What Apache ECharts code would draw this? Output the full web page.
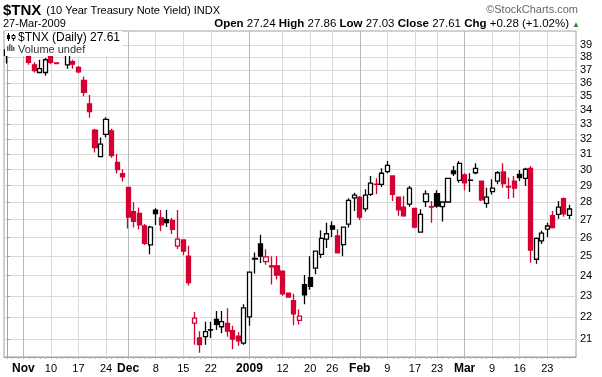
<!DOCTYPE html>
<html>
<head>
<meta charset="utf-8">
<script src="https://cdn.jsdelivr.net/npm/echarts@6/dist/echarts.min.js"></script>
<style>
html, body { margin: 0; padding: 0; background: #fff; }
#tnxChart { width: 602px; height: 377px; }
</style>
</head>
<body>
<div id="tnxChart"></div>
<script>
// trading days shown on the chart
var dates = [
  '2008-10-29', '2008-10-30', '2008-10-31',
  '2008-11-03', '2008-11-04', '2008-11-05', '2008-11-06', '2008-11-07', '2008-11-10', '2008-11-11', '2008-11-12', '2008-11-13', '2008-11-14',
  '2008-11-17', '2008-11-18', '2008-11-19', '2008-11-20', '2008-11-21', '2008-11-24', '2008-11-25', '2008-11-26', '2008-11-28',
  '2008-12-01', '2008-12-02', '2008-12-03', '2008-12-04', '2008-12-05', '2008-12-08', '2008-12-09', '2008-12-10', '2008-12-11', '2008-12-12',
  '2008-12-15', '2008-12-16', '2008-12-17', '2008-12-18', '2008-12-19', '2008-12-22', '2008-12-23', '2008-12-24', '2008-12-26',
  '2008-12-29', '2008-12-30', '2008-12-31',
  '2009-01-02', '2009-01-05', '2009-01-06', '2009-01-07', '2009-01-08', '2009-01-09', '2009-01-12', '2009-01-13', '2009-01-14', '2009-01-15', '2009-01-16',
  '2009-01-20', '2009-01-21', '2009-01-22', '2009-01-23', '2009-01-26', '2009-01-27', '2009-01-28', '2009-01-29', '2009-01-30',
  '2009-02-02', '2009-02-03', '2009-02-04', '2009-02-05', '2009-02-06', '2009-02-09', '2009-02-10', '2009-02-11', '2009-02-12', '2009-02-13',
  '2009-02-17', '2009-02-18', '2009-02-19', '2009-02-20', '2009-02-23', '2009-02-24', '2009-02-25', '2009-02-26', '2009-02-27',
  '2009-03-02', '2009-03-03', '2009-03-04', '2009-03-05', '2009-03-06', '2009-03-09', '2009-03-10', '2009-03-11', '2009-03-12', '2009-03-13',
  '2009-03-16', '2009-03-17', '2009-03-18', '2009-03-19', '2009-03-20', '2009-03-23', '2009-03-24', '2009-03-25', '2009-03-26', '2009-03-27'
];

// OHLC (null = no candle drawn)
var opens = [38.15, 38.6, 39.5, 39.4, 39.0, 37.4, 36.8, 36.8, 38.3, 37.55,
  null, 37.4, 37.65, 37.2, 36.2, 34.45, 32.6, 30.83, 32.3, 32.55,
  30.45, 29.75, 28.9, 27.45, 27.35, 26.65, 25.6, 27.55, 27.1, 27.0,
  26.95, 25.54, 25.87, 25.0, 21.71, 21.05, 21.11, 21.4, 21.89, 21.55,
  21.7, 21.37, 21.13, 20.82, 22.0, 24.85, 25.65, 24.72, 24.5, 24.5,
  24.23, 23.13, 22.77, 21.84, 23.54, 23.9, 24.38, 25.1, 25.91, 26.64,
  26.09, 25.62, 26.74, 28.27, 28.3, 27.62, 28.47, 29.1, 29.08, 29.87,
  29.6, 28.31, 27.72, 27.89, 27.64, 26.3, 28.04, 27.75, 28.52, 27.75,
  28.02, 29.91, 29.32, 29.66, 29.32, 29.8, 29.28, 27.94, 28.64, 29.28,
  29.85, 28.95, 29.28, 29.7, 29.45, 30.08, 24.84, 25.82, 26.46, 27.22,
  27.3, 28.22, 27.24];
var highs = [39.2, 39.7, 39.9, 39.6, 39.2, 37.6, 37.8, 37.95, 38.4, 37.58,
  null, 38.4, 37.8, 37.3, 36.5, 35.1, 32.7, 32.1, 33.5, 32.7,
  31.0, 30.0, 28.9, 28.0, 27.7, 26.75, 26.65, 27.65, 27.55, 27.55,
  27.1, 27.55, 25.9, 25.55, 22.23, 21.35, 21.78, 21.78, 22.27, 22.27,
  22.4, 21.6, 21.3, 22.6, 24.2, 25.2, 26.15, 25.37, 25.0, 25.0,
  24.25, 23.15, 23.1, 22.35, 24.03, 25.0, 25.3, 26.4, 26.82, 26.9,
  26.46, 26.6, 28.24, 28.57, 28.37, 28.78, 29.6, 29.45, 30.08, 30.55,
  29.6, 28.31, 28.37, 28.98, 27.65, 27.6, 28.72, 28.08, 28.72, 28.05,
  29.45, 30.23, 30.55, 29.77, 29.77, 30.4, 29.3, 28.88, 29.4, 29.91,
  30.4, 29.5, 29.6, 29.98, 30.12, 30.23, 26.0, 26.37, 26.82, 27.5,
  28.08, 28.28, 27.86];
var lows = [37.5, 38.5, 38.9, 38.8, 37.4, 36.8, 36.75, 36.55, 37.45, 37.48,
  null, 37.1, 37.1, 36.75, 35.0, 33.45, 31.1, 30.8, 32.1, 30.75,
  29.75, 29.25, 26.5, 26.55, 26.45, 25.6, 25.1, 26.7, 26.35, 26.58,
  26.2, 25.38, 25.05, 23.5, 20.75, 20.4, 20.75, 21.05, 21.4, 21.26,
  21.1, 20.55, 20.7, 20.75, 21.6, 24.1, 24.65, 24.55, 23.55, 23.8,
  23.0, 22.9, 21.62, 21.65, 22.6, 23.3, 24.07, 24.9, 25.43, 26.03,
  25.15, 25.0, 26.56, 27.5, 26.98, 27.45, 28.37, 28.5, 28.92, 29.77,
  28.08, 27.22, 27.16, 27.74, 26.52, 26.27, 27.72, 26.82, 27.68, 26.9,
  27.98, 29.6, 29.18, 28.72, 28.62, 29.7, 28.08, 27.68, 28.47, 29.08,
  28.88, 28.2, 28.27, 29.28, 28.98, 24.66, 24.61, 25.65, 26.03, 26.5,
  27.05, 27.16, 27.03];
var closes = [38.6, 39.5, 39.4, 39.1, 37.6, 36.95, 37.1, 37.8, 37.6, 37.5,
  null, 38.2, 37.45, 36.85, 35.3, 33.9, 31.42, 31.65, 33.35, 30.9,
  30.0, 29.55, 27.15, 26.9, 26.7, 25.68, 26.58, 27.35, 26.7, 26.83,
  26.45, 25.91, 25.27, 23.65, 21.94, 20.75, 21.33, 21.42, 21.66, 21.78,
  21.35, 21.0, 20.92, 22.42, 24.18, 24.88, 25.0, 24.96, 24.45, 24.03,
  23.1, 22.94, 22.14, 22.04, 23.04, 23.46, 25.27, 25.96, 26.21, 26.46,
  25.18, 26.58, 28.12, 28.43, 27.15, 28.43, 29.15, 29.08, 29.77, 30.27,
  28.47, 27.56, 27.22, 28.85, 26.58, 27.3, 28.5, 27.72, 27.78, 28.02,
  29.45, 29.74, 30.4, 29.18, 29.34, 30.08, 28.15, 28.31, 28.85, 29.8,
  29.12, 28.92, 28.85, 29.49, 30.02, 25.32, 25.96, 26.24, 26.64, 26.55,
  27.72, 27.33, 27.61];

// x axis labels
var tickDates = ['2008-11-03', '2008-11-10', '2008-11-17', '2008-11-24', '2008-12-01', '2008-12-08', '2008-12-15', '2008-12-22',
  '2009-01-02', '2009-01-12', '2009-01-20', '2009-01-26', '2009-02-02', '2009-02-09', '2009-02-17', '2009-02-23',
  '2009-03-02', '2009-03-09', '2009-03-16', '2009-03-23'];
var tickLabels = ['Nov', '10', '17', '24', 'Dec', '8', '15', '22', '2009', '12', '20', '26', 'Feb', '9', '17', '23', 'Mar', '9', '16', '23'];
var monthDates = ['2008-11-03', '2008-12-01', '2009-01-02', '2009-02-02', '2009-03-02'];
// y axis labels
var yTicks = [21, 22, 23, 24, 25, 26, 27, 28, 29, 30, 31, 32, 33, 34, 35, 36, 37, 38, 39];

var RED = '#d40032';
var BLACK = '#000000';
var FONT = 'Liberation Sans, Arial, sans-serif';
var MONTHS = ['Jan', 'Feb', 'Mar', 'Apr', 'May', 'Jun', 'Jul', 'Aug', 'Sep', 'Oct', 'Nov', 'Dec'];

var tickIdx = tickDates.map(function (d) { return dates.indexOf(d); });
var monthIdx = monthDates.map(function (d) { return dates.indexOf(d); });
var dayIdx = dates.map(function (d, i) { return i; });

// stockcharts colouring: red when close < previous close, hollow when close > open
var candles = [];
var prevClose = null;
for (var i = 0; i < dates.length; i++) {
  if (opens[i] == null) continue;
  var o = opens[i], c = closes[i];
  var col = (prevClose != null && c < prevClose) ? RED : BLACK;
  var fill = c > o ? '#ffffff' : col;
  candles.push({
    value: [i, o, c, lows[i], highs[i]],
    itemStyle: { color: fill, color0: fill, borderColor: col, borderColor0: col, borderColorDoji: col }
  });
  prevClose = c;
}

// header numbers from the last two candles
var n = dates.length - 1;
var chg = closes[n] - closes[n - 1];
var pct = chg / closes[n - 1] * 100;
var sign = chg >= 0 ? '+' : '-';
var dp = dates[n].split('-');
var lastDate = parseInt(dp[2], 10) + '-' + MONTHS[parseInt(dp[1], 10) - 1] + '-' + dp[0];
var ohlcText = '{b|Open} {n|' + opens[n].toFixed(2) + '} {b|High} {n|' + highs[n].toFixed(2) +
  '} {b|Low} {n|' + lows[n].toFixed(2) + '} {b|Close} {n|' + closes[n].toFixed(2) +
  '} {b|Chg} {n|' + sign + Math.abs(chg).toFixed(2) + ' (' + sign + Math.abs(pct).toFixed(2) + '%)}';

var xMin = -0.5, xMax = 103.2;

var option = {
  animation: false,
  backgroundColor: '#ffffff',
  textStyle: { fontFamily: FONT },
  title: [
    {
      left: 3, top: 2, padding: 0,
      text: '{t|$TNX} {s|(10 Year Treasury Note Yield) INDX}',
      textStyle: { fontWeight: 'normal', rich: {
        t: { fontSize: 15, fontWeight: 'bold', fontFamily: FONT, color: '#000' },
        s: { fontSize: 11, fontWeight: 'normal', fontFamily: FONT, color: '#000' }
      } }
    },
    {
      left: 3, top: 18, padding: 0, text: lastDate,
      textStyle: { fontSize: 11, fontWeight: 'normal', fontFamily: FONT, color: '#000' }
    },
    {
      right: 33, top: 18, padding: 0, text: ohlcText,
      textStyle: { fontSize: 11.5, fontWeight: 'normal', fontFamily: FONT, color: '#000', rich: {
        b: { fontSize: 11.5, fontWeight: 'bold', fontFamily: FONT, color: '#000' },
        n: { fontSize: 11.5, fontWeight: 'normal', fontFamily: FONT, color: '#000' }
      } }
    },
    {
      right: 22, top: 21, padding: 0, text: '\u25B2',
      textStyle: { fontSize: 8, fontWeight: 'normal', color: chg >= 0 ? '#2e8b2e' : RED }
    },
    {
      right: 24, top: 4, padding: 0, text: '\u00A9StockCharts.com',
      textStyle: { fontSize: 11, fontWeight: 'normal', fontFamily: FONT, color: '#666' }
    },
    {
      // legend box inside the plot
      left: 5, top: 31, padding: [1, 2, 1, 13], backgroundColor: '#ffffff',
      text: '{a|$TNX (Daily) ' + closes[n].toFixed(2) + '}\n{v|Volume undef}',
      textStyle: { fontWeight: 'normal', rich: {
        a: { fontSize: 12, fontWeight: 'normal', fontFamily: FONT, color: '#000', lineHeight: 12 },
        v: { fontSize: 11, fontWeight: 'normal', fontFamily: FONT, color: '#333', lineHeight: 11 }
      } }
    }
  ],
  graphic: [
    { type: 'line', z: 100, shape: { x1: 8.5, y1: 33, x2: 8.5, y2: 41 }, style: { stroke: '#000', lineWidth: 1 } },
    { type: 'rect', z: 100, shape: { x: 7, y: 35, width: 3, height: 4 }, style: { fill: '#000' } },
    { type: 'line', z: 100, shape: { x1: 13.5, y1: 34, x2: 13.5, y2: 41 }, style: { stroke: '#000', lineWidth: 1 } },
    { type: 'rect', z: 100, shape: { x: 12, y: 35.5, width: 3, height: 3 }, style: { fill: '#fff', stroke: '#000', lineWidth: 1 } },
    { type: 'rect', z: 100, shape: { x: 7, y: 46, width: 1.5, height: 5 }, style: { fill: '#666' } },
    { type: 'rect', z: 100, shape: { x: 9, y: 44, width: 1.5, height: 7 }, style: { fill: '#666' } },
    { type: 'rect', z: 100, shape: { x: 11, y: 45, width: 1.5, height: 6 }, style: { fill: '#666' } },
    { type: 'rect', z: 100, shape: { x: 13, y: 47, width: 1.5, height: 4 }, style: { fill: '#666' } }
  ],
  grid: {
    left: 4, right: 26, top: 31, bottom: 20,
    show: true, borderColor: '#a0a0a0', borderWidth: 1, backgroundColor: '#ffffff',
    outerBoundsMode: 'none'
  },
  xAxis: [
    {
      // labels and the small daily ticks
      type: 'value', min: xMin, max: xMax, position: 'bottom',
      axisLine: { show: true, lineStyle: { color: '#a0a0a0' } },
      axisTick: { show: true, customValues: dayIdx, length: 2, lineStyle: { color: '#b0b0b0' } },
      splitLine: { show: false },
      axisLabel: {
        customValues: tickIdx, margin: 6, hideOverlap: false,
        fontSize: 11, color: '#000', fontFamily: FONT,
        formatter: function (v) {
          var k = tickIdx.indexOf(Math.round(v));
          if (k < 0) return '';
          var t = tickLabels[k];
          return monthIdx.indexOf(Math.round(v)) >= 0 ? '{b|' + t + '}' : t;
        },
        rich: { b: { fontSize: 12, fontWeight: 'bold', fontFamily: FONT, color: '#000' } }
      }
    },
    {
      // weekly grid lines
      type: 'value', min: xMin, max: xMax,
      axisLine: { show: false }, axisLabel: { show: false },
      axisTick: { show: false, customValues: tickIdx },
      splitLine: { show: true, lineStyle: { color: '#dadada', width: 1 } }
    },
    {
      // month grid lines, a bit darker
      type: 'value', min: xMin, max: xMax,
      axisLine: { show: false }, axisLabel: { show: false },
      axisTick: { show: false, customValues: monthIdx },
      splitLine: { show: true, lineStyle: { color: '#b8b8b8', width: 1 } }
    }
  ],
  yAxis: {
    type: 'log', logBase: 10, position: 'right',
    min: 20.22, max: 40.16,
    axisLine: { show: true, lineStyle: { color: '#a0a0a0' } },
    axisTick: { show: true, customValues: yTicks, length: 3, lineStyle: { color: '#a0a0a0' } },
    splitLine: { show: true, lineStyle: { color: '#dadada', width: 1 } },
    axisLabel: {
      customValues: yTicks, margin: 4, hideOverlap: false,
      fontSize: 11, color: '#000', fontFamily: FONT,
      formatter: function (v) { return String(Math.round(v)); }
    }
  },
  series: [{
    name: '$TNX',
    type: 'candlestick',
    xAxisIndex: 0,
    yAxisIndex: 0,
    barWidth: 4.6,
    clip: true,
    silent: true,
    itemStyle: { borderWidth: 1.3 },
    data: candles
  }]
};

var tnxChart = echarts.init(document.getElementById('tnxChart'));
tnxChart.setOption(option);
</script>
</body>
</html>
